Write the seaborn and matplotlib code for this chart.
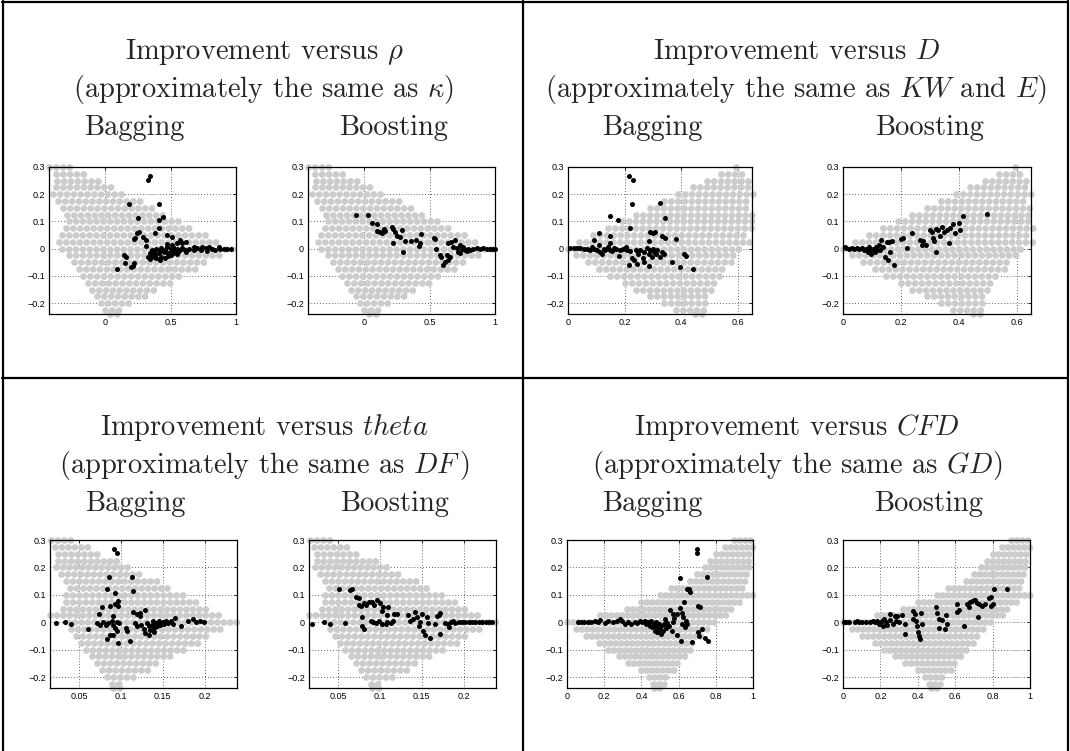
import matplotlib
matplotlib.use("Agg")
import matplotlib.pyplot as plt
from matplotlib.lines import Line2D
import pandas as pd
import seaborn as sns

sns.set_style("white")
plt.rcParams["mathtext.fontset"] = "cm"
plt.rcParams["font.family"] = ["Liberation Sans", "DejaVu Sans"]

W, H = 1070, 751

# ---- grey reference region: one row per improvement level, span lo..hi ----
grey_y = [0.3, 0.275, 0.25, 0.225, 0.2, 0.175, 0.15, 0.125, 0.1, 0.075, 0.05, 0.025, 0.0,
          -0.025, -0.05, -0.075, -0.1, -0.125, -0.15, -0.175, -0.2, -0.225, -0.24]

rho_lo = [-0.43, -0.38, -0.37, -0.38, -0.40, -0.36, -0.32, -0.29, -0.28, -0.30, -0.33, -0.35, -0.33,
          -0.28, -0.24, -0.20, -0.17, -0.13, -0.10, -0.06, -0.03, 0.00, 0.04]
rho_hi = [-0.26, -0.13, -0.03, 0.06, 0.16, 0.27, 0.37, 0.47, 0.57, 0.67, 0.78, 0.88, 1.00,
          0.90, 0.80, 0.70, 0.60, 0.50, 0.41, 0.31, 0.21, 0.12, 0.10]

d_lo = [0.595, 0.54, 0.49, 0.44, 0.39, 0.34, 0.29, 0.24, 0.19, 0.14, 0.09, 0.04, 0.00,
        0.03, 0.07, 0.11, 0.15, 0.20, 0.24, 0.29, 0.34, 0.38, 0.45]
d_hi = [0.605, 0.63, 0.64, 0.65, 0.66, 0.64, 0.65, 0.66, 0.65, 0.66, 0.64, 0.66, 0.62,
        0.60, 0.58, 0.56, 0.54, 0.53, 0.51, 0.50, 0.49, 0.48, 0.48]

theta_lo = [0.017, 0.021, 0.025, 0.025, 0.023, 0.029, 0.035, 0.039, 0.035, 0.035, 0.031, 0.016, 0.037,
            0.041, 0.047, 0.053, 0.059, 0.065, 0.071, 0.077, 0.083, 0.089, 0.091]
theta_hi = [0.046, 0.063, 0.079, 0.095, 0.111, 0.127, 0.143, 0.158, 0.174, 0.190, 0.206, 0.222, 0.238,
            0.223, 0.208, 0.193, 0.178, 0.163, 0.148, 0.133, 0.118, 0.103, 0.101]

cfd_lo = [0.90, 0.85, 0.80, 0.77, 0.74, 0.70, 0.66, 0.56, 0.50, 0.40, 0.32, 0.18, 0.00,
          0.05, 0.10, 0.17, 0.22, 0.28, 0.33, 0.40, 0.44, 0.46, 0.47]
cfd_hi = [1.00, 1.00, 0.98, 0.98, 1.00, 0.98, 0.97, 0.96, 1.00, 0.94, 0.90, 0.87, 0.80,
          0.77, 0.74, 0.70, 0.68, 0.65, 0.62, 0.58, 0.55, 0.53, 0.52]

# ---- black points: observed improvement of the ensembles ----
bag_rho_x = [0.34, 0.33, 0.18, 0.41, 0.25, 0.44, 0.41, 0.24, 0.26, 0.23, 0.22, 0.29, 0.31, 0.38, 0.41,
             0.47, 0.51, 0.57, 0.59, 0.31, 0.09, 0.14, 0.16, 0.15, 0.20, 0.22, 0.21,
             0.33, 0.34, 0.36, 0.37, 0.38, 0.39, 0.41, 0.42, 0.43, 0.45, 0.46, 0.47, 0.48, 0.50, 0.51,
             0.52, 0.53, 0.55, 0.56, 0.57, 0.59, 0.61, 0.62, 0.64,
             0.34, 0.36, 0.37, 0.39, 0.42, 0.43, 0.46, 0.48, 0.50, 0.52, 0.55,
             0.68, 0.70, 0.73, 0.74, 0.77, 0.78, 0.79, 0.82, 0.84, 0.87, 0.88, 0.91, 0.93, 0.96,
             0.47, 0.51, 0.55, 0.62, 0.68]
bag_rho_y = [0.266, 0.251, 0.165, 0.164, 0.112, 0.118, 0.106, 0.059, 0.063, 0.038, 0.034, 0.042, 0.032, 0.059, 0.075,
             0.05, 0.042, 0.032, 0.02, 0.01, -0.076, -0.023, -0.03, -0.054, -0.069, -0.052, -0.065,
             -0.03, -0.017, -0.005, -0.011, -0.023, -0.002, -0.017, -0.005, 0.001, -0.011, -0.005, 0.005, -0.017, -0.002, -0.011,
             0.007, -0.005, 0.0, -0.011, -0.005, 0.001, -0.005, -0.011, -0.002,
             -0.039, -0.027, -0.032, -0.036, -0.042, -0.03, -0.036, -0.027, -0.023, -0.017, -0.02,
             -0.005, 0.001, -0.005, 0.007, 0.001, -0.007, 0.007, 0.0, -0.005, 0.005, -0.002, 0.0, 0.0, 0.0,
             0.017, 0.014, 0.02, 0.026, 0.007]

boo_rho_x = [-0.06, 0.03, 0.056, 0.094, 0.094, 0.12, 0.133, 0.15, 0.158, 0.14,
             0.21, 0.22, 0.235, 0.25, 0.27, 0.286, 0.31, 0.217, 0.30, 0.36, 0.395, 0.43, 0.434, 0.415,
             0.53, 0.54, 0.55, 0.58, 0.59, 0.605, 0.617, 0.643, 0.656, 0.643, 0.66, 0.694,
             0.68, 0.707, 0.72, 0.73, 0.745, 0.758, 0.77, 0.783, 0.796, 0.81, 0.834, 0.86, 0.885,
             0.91, 0.936, 0.96, 0.987, 1.0, 0.635, 0.73]
boo_rho_y = [0.123, 0.122, 0.093, 0.09, 0.066, 0.063, 0.057, 0.071, 0.066, 0.06,
             0.081, 0.073, 0.063, 0.048, 0.042, 0.069, 0.03, 0.02, -0.011, 0.03, 0.032, 0.02, 0.054, 0.011,
             0.038, 0.034, 0.0, -0.023, -0.03, -0.06, -0.048, -0.042, -0.03, 0.022, 0.026, 0.032,
             0.007, 0.001, -0.011, -0.017, -0.002, 0.005, -0.005, -0.009, 0.0, -0.005, 0.0, 0.002, 0.0,
             0.001, 0.0, 0.0, 0.0, 0.0, -0.023, 0.014]

bag_d_x = [0.214, 0.228, 0.226, 0.326, 0.149, 0.175, 0.344, 0.22, 0.108, 0.091, 0.149,
           0.29, 0.302, 0.308, 0.332, 0.344, 0.285, 0.381, 0.149,
           0.008, 0.02, 0.032, 0.044, 0.055, 0.067, 0.079, 0.085, 0.091, 0.102, 0.108, 0.114, 0.12,
           0.126, 0.132, 0.14, 0.149, 0.155, 0.161, 0.17, 0.179, 0.185, 0.196, 0.206, 0.21, 0.22,
           0.226, 0.234, 0.241, 0.249, 0.255, 0.265, 0.27, 0.279, 0.285, 0.29, 0.296, 0.30, 0.305,
           0.312, 0.316, 0.324, 0.332, 0.338,
           0.214, 0.285, 0.367, 0.394, 0.41, 0.418, 0.441, 0.244, 0.267]
bag_d_y = [0.267, 0.251, 0.164, 0.166, 0.121, 0.107, 0.112, 0.076, 0.057, 0.033, 0.045,
           0.061, 0.057, 0.063, 0.045, 0.04, 0.028, 0.036, 0.021,
           0.002, 0.004, 0.002, 0.001, -0.001, 0.0, -0.006, 0.006, 0.0, -0.004, 0.012, -0.012, -0.018,
           0.0, -0.006, 0.006, -0.004, -0.01, 0.004, -0.001, -0.028, -0.006, 0.0, 0.006, -0.006, -0.01,
           -0.036, -0.042, -0.006, -0.018, -0.004, -0.036, -0.012, 0.004, -0.018, -0.006, -0.03, 0.0, -0.012,
           -0.021, -0.006, -0.03, -0.012, -0.018,
           -0.06, -0.064, -0.048, -0.067, -0.018, -0.028, -0.075, -0.055, -0.048]

boo_d_x = [0.006, 0.012, 0.021, 0.03, 0.038, 0.047, 0.057, 0.065, 0.073, 0.08, 0.086, 0.09, 0.095,
           0.098, 0.104, 0.109, 0.114, 0.118, 0.124, 0.128, 0.133, 0.14, 0.144, 0.151, 0.156, 0.16,
           0.163, 0.168, 0.175, 0.2, 0.207, 0.222, 0.239, 0.266, 0.272, 0.278, 0.286, 0.302, 0.308,
           0.31, 0.314, 0.32, 0.322, 0.329, 0.334, 0.341, 0.349, 0.361, 0.367, 0.369, 0.379, 0.388,
           0.402, 0.405, 0.414, 0.497]
boo_d_y = [0.006, 0.002, 0.0, 0.004, -0.001, 0.001, 0.0, 0.004, -0.004, 0.0, -0.012, 0.006, -0.006,
           -0.021, 0.0, -0.012, 0.006, -0.006, 0.012, -0.006, 0.033, 0.006, -0.03, 0.024, -0.042, 0.024,
           -0.012, 0.028, -0.06, 0.036, 0.04, 0.002, 0.057, 0.033, 0.012, 0.028, 0.012, 0.067, 0.061,
           0.04, 0.03, -0.012, 0.073, 0.067, 0.048, 0.081, 0.061, 0.067, 0.021, 0.076, 0.091, 0.057,
           0.093, 0.067, 0.121, 0.127]

bag_theta_x = [0.092, 0.095, 0.086, 0.113, 0.084, 0.093, 0.115, 0.077, 0.087, 0.093, 0.096, 0.097,
               0.074, 0.091, 0.115, 0.119, 0.123, 0.129, 0.123, 0.023, 0.033, 0.04, 0.061,
               0.071, 0.075, 0.079, 0.082, 0.085, 0.089, 0.091, 0.095, 0.098, 0.093, 0.095, 0.091,
               0.087, 0.084, 0.096, 0.106, 0.111, 0.107,
               0.117, 0.119, 0.124, 0.127, 0.129, 0.131, 0.133, 0.135, 0.137, 0.138, 0.139, 0.142,
               0.143, 0.146, 0.147, 0.15, 0.151, 0.154, 0.156, 0.16, 0.162, 0.165, 0.172, 0.18,
               0.186, 0.19, 0.194, 0.199, 0.134, 0.14]
bag_theta_y = [0.268, 0.254, 0.166, 0.165, 0.122, 0.107, 0.113, 0.055, 0.059, 0.065, 0.077, 0.059,
               0.03, 0.022, 0.038, 0.03, 0.034, 0.046, 0.022, -0.002, 0.001, -0.005, -0.023,
               -0.002, -0.009, 0.001, -0.009, -0.002, 0.004, -0.009, 0.0, -0.002, -0.021, -0.033, -0.045,
               -0.045, -0.063, -0.076, -0.021, -0.07, -0.033,
               -0.002, -0.015, -0.009, -0.023, -0.039, -0.002, -0.015, -0.03, -0.009, 0.004, -0.021, -0.002,
               -0.015, 0.006, -0.009, 0.001, -0.006, 0.006, -0.002, 0.004, -0.006, 0.016, -0.012, 0.004,
               0.01, 0.0, 0.004, 0.0, -0.045, -0.035]

boo_theta_x = [0.019, 0.033, 0.04, 0.058, 0.051, 0.064, 0.067, 0.071, 0.075, 0.075, 0.077, 0.081,
               0.084, 0.087, 0.091, 0.093, 0.097, 0.1, 0.102, 0.104, 0.108, 0.11, 0.117, 0.12,
               0.079, 0.079, 0.081, 0.089, 0.092, 0.095, 0.099, 0.103, 0.107, 0.109, 0.113, 0.116,
               0.134, 0.136, 0.139, 0.142, 0.144, 0.147, 0.148, 0.15, 0.152, 0.154, 0.156, 0.158,
               0.16, 0.166, 0.168, 0.17, 0.172, 0.172,
               0.178, 0.181, 0.183, 0.185, 0.187, 0.19, 0.194, 0.198, 0.202, 0.206, 0.21, 0.214,
               0.218, 0.222, 0.226, 0.23, 0.234]
boo_theta_y = [-0.005, 0.001, -0.006, -0.002, 0.122, 0.119, 0.122, 0.091, 0.088, 0.064, 0.058, 0.07,
               0.064, 0.074, 0.073, 0.064, 0.082, 0.07, 0.042, 0.054, 0.028, 0.054, 0.03, 0.03,
               0.018, -0.015, -0.023, 0.004, 0.001, -0.002, 0.004, -0.006, -0.008, 0.0, -0.002, 0.004,
               0.025, 0.004, 0.01, 0.037, 0.018, -0.015, 0.001, 0.03, -0.033, -0.045, 0.018, -0.002,
               -0.059, -0.008, 0.022, 0.028, 0.034, -0.042,
               -0.002, -0.008, -0.018, 0.001, 0.006, -0.002, 0.001, 0.0, 0.0, 0.0, 0.0, 0.0,
               0.0, 0.0, 0.0, 0.0, 0.0]

bag_cfd_x = [0.697, 0.697, 0.61, 0.751, 0.643, 0.661, 0.658, 0.631, 0.706, 0.715, 0.607, 0.589, 0.616,
             0.553, 0.568, 0.575, 0.625, 0.64, 0.616, 0.634, 0.647, 0.611, 0.67, 0.706, 0.712, 0.724,
             0.742, 0.76, 0.589,
             0.058, 0.076, 0.094, 0.112, 0.13, 0.148, 0.166, 0.175, 0.202, 0.22, 0.247, 0.268, 0.283,
             0.297, 0.31, 0.328, 0.346, 0.364, 0.377, 0.391, 0.405, 0.418, 0.427, 0.436, 0.445, 0.454,
             0.459, 0.467, 0.472, 0.477, 0.481, 0.486, 0.492, 0.499, 0.503, 0.508, 0.514, 0.521, 0.526,
             0.532, 0.539, 0.55, 0.562, 0.571]
bag_cfd_y = [0.266, 0.251, 0.163, 0.165, 0.12, 0.11, 0.122, 0.073, 0.061, 0.055, 0.053, 0.031, 0.033,
             0.043, 0.031, 0.016, 0.018, 0.006, -0.006, -0.018, -0.006, -0.067, -0.073, -0.037, -0.049, -0.024,
             -0.058, -0.067, -0.045,
             0.0, 0.001, -0.001, 0.002, -0.001, 0.006, 0.001, 0.009, -0.004, 0.004, 0.0, 0.006, 0.012,
             0.006, -0.006, 0.0, -0.006, 0.0, -0.004, 0.004, -0.001, 0.006, -0.006, 0.0, -0.012, 0.006,
             -0.018, -0.006, -0.031, 0.0, -0.018, -0.037, -0.006, -0.024, -0.043, -0.012, -0.031, -0.006, 0.012,
             -0.021, -0.004, -0.012, -0.031, 0.0]

boo_cfd_x = [0.004, 0.018, 0.032, 0.063, 0.075, 0.086, 0.099, 0.125, 0.143, 0.158, 0.17, 0.183, 0.194,
             0.206, 0.215, 0.219, 0.229, 0.237, 0.251, 0.254, 0.265, 0.278, 0.283, 0.29, 0.301, 0.314,
             0.332, 0.332,
             0.373, 0.385, 0.376, 0.391, 0.398, 0.403, 0.409, 0.412, 0.416, 0.421,
             0.498, 0.5, 0.516, 0.529, 0.516, 0.547, 0.556, 0.552, 0.609, 0.609, 0.618, 0.645,
             0.663, 0.672, 0.681, 0.69, 0.699, 0.708, 0.717, 0.726, 0.72, 0.744, 0.762, 0.78, 0.792,
             0.789, 0.803, 0.81, 0.878]
boo_cfd_y = [0.002, 0.0, 0.001, 0.0, 0.004, 0.001, -0.001, 0.001, 0.0, 0.004, -0.001, 0.006, -0.006,
             0.004, -0.012, 0.012, 0.0, -0.009, 0.031, 0.009, -0.006, 0.021, 0.004, 0.024, 0.0, 0.028,
             -0.043, -0.006,
             0.04, 0.031, 0.012, 0.004, -0.012, -0.037, -0.049, -0.061, 0.033, -0.006,
             0.055, 0.033, 0.012, 0.009, -0.021, -0.024, -0.006, 0.028, 0.065, 0.037, 0.045, -0.012,
             0.067, 0.055, 0.073, 0.077, 0.08, 0.082, 0.07, 0.067, 0.018, 0.061, 0.067, 0.089, 0.092,
             0.058, 0.065, 0.12, 0.122]

# ---- panel texts and axes ----
titles = [
    ("Improvement versus $\\rho$", "(approximately the same as $\\kappa$)"),
    ("Improvement versus $D$", "(approximately the same as $KW$ and $E$)"),
    ("Improvement versus $theta$", "(approximately the same as $DF\\,$)"),
    ("Improvement versus $CFD$", "(approximately the same as $GD$)"),
]
grey_spans = [(rho_lo, rho_hi), (d_lo, d_hi), (theta_lo, theta_hi), (cfd_lo, cfd_hi)]
grey_gap = [1.0, 1.0, 0.95, 0.8]
black_sets = [
    ((bag_rho_x, bag_rho_y), (boo_rho_x, boo_rho_y)),
    ((bag_d_x, bag_d_y), (boo_d_x, boo_d_y)),
    ((bag_theta_x, bag_theta_y), (boo_theta_x, boo_theta_y)),
    ((bag_cfd_x, bag_cfd_y), (boo_cfd_x, boo_cfd_y)),
]
x_ticks = [[0, 0.5, 1], [0, 0.2, 0.4, 0.6], [0.05, 0.1, 0.15, 0.2], [0, 0.2, 0.4, 0.6, 0.8, 1]]
x_labels = [["0", "0.5", "1"], ["0", "0.2", "0.4", "0.6"], ["0.05", "0.1", "0.15", "0.2"],
            ["0", "0.2", "0.4", "0.6", "0.8", "1"]]
x_lims = [(-0.43, 1.0), (0.0, 0.65), (0.0155, 0.2385), (0.0, 1.0)]
y_ticks = [-0.2, -0.1, 0, 0.1, 0.2, 0.3]
y_labels = ["\u22120.2", "\u22120.1", "0", "0.1", "0.2", "0.3"]

# pixel layout (left, right) of the two small axes per panel, and panel rows
axes_x = [[(49, 236), (308, 495)], [(568, 752), (843, 1031)],
          [(50, 237), (309, 496)], [(567, 753), (843, 1030)]]
axes_y = [(167, 314), (167, 314), (540, 688), (540, 688)]
panel_cx = [264, 796, 264, 797]
text_y = [(52, 90, 128), (52, 90, 128), (428, 466, 504), (428, 466, 504)]

fig = plt.figure(figsize=(W / 100, H / 100), dpi=100)
fig.patch.set_facecolor("white")


def fx(px):
    return px / W


def fy(py):
    return 1 - py / H


serif = dict(family="cmr10", fontsize=20.5, ha="center", va="center")

for p in range(4):
    t1, t2 = titles[p]
    y1, y2, y3 = text_y[p]
    fig.text(fx(panel_cx[p]), fy(y1), t1, **serif)
    fig.text(fx(panel_cx[p]), fy(y2), t2, **serif)
    for k, name in enumerate(["Bagging", "Boosting"]):
        x0, x1 = axes_x[p][k]
        fig.text(fx((x0 + x1) / 2 - 8), fy(y3), name, **serif)

        top, bot = axes_y[p]
        ax = fig.add_axes([fx(x0), fy(bot), fx(x1 - x0), (bot - top) / H])
        ax.set_axisbelow(True)
        lo, hi = grey_spans[p]
        for yv, a, b in zip(grey_y, lo, hi):
            ax.plot([a, b], [yv, yv], color="#cccccc", lw=4.9,
                    linestyle=(0, (0.001, grey_gap[p])), dash_capstyle="round",
                    clip_on=False, zorder=2)
        bx, by = black_sets[p][k]
        df = pd.DataFrame({"x": bx, "y": by})
        sns.scatterplot(data=df, x="x", y="y", ax=ax, color="black", s=13,
                        linewidth=0, clip_on=False, zorder=3, legend=False)
        ax.set_xlim(*x_lims[p])
        ax.set_ylim(-0.24, 0.3)
        ax.set_xticks(x_ticks[p])
        ax.set_xticklabels(x_labels[p])
        ax.set_yticks(y_ticks)
        ax.set_yticklabels(y_labels)
        ax.set_xlabel("")
        ax.set_ylabel("")
        ax.grid(True, linestyle=(0, (1, 2.5)), color="#333333", lw=0.6)
        ax.tick_params(direction="in", length=2.5, width=0.6, labelsize=6.5, pad=3,
                       top=True, right=True, colors="black")
        for s in ax.spines.values():
            s.set_visible(True)
            s.set_color("black")
            s.set_linewidth(0.9)

# table border lines
lw = 1.6
fig.add_artist(Line2D([fx(2), fx(1068)], [fy(1.5), fy(1.5)], color="black", lw=lw))
fig.add_artist(Line2D([fx(2.5), fx(2.5)], [fy(1), fy(751)], color="black", lw=lw))
fig.add_artist(Line2D([fx(1067.5), fx(1067.5)], [fy(1), fy(751)], color="black", lw=lw))
fig.add_artist(Line2D([fx(523), fx(523)], [fy(1), fy(751)], color="black", lw=lw))
fig.add_artist(Line2D([fx(2), fx(1068)], [fy(378), fy(378)], color="black", lw=lw))

fig.savefig("out.png", dpi=100, facecolor="white")
